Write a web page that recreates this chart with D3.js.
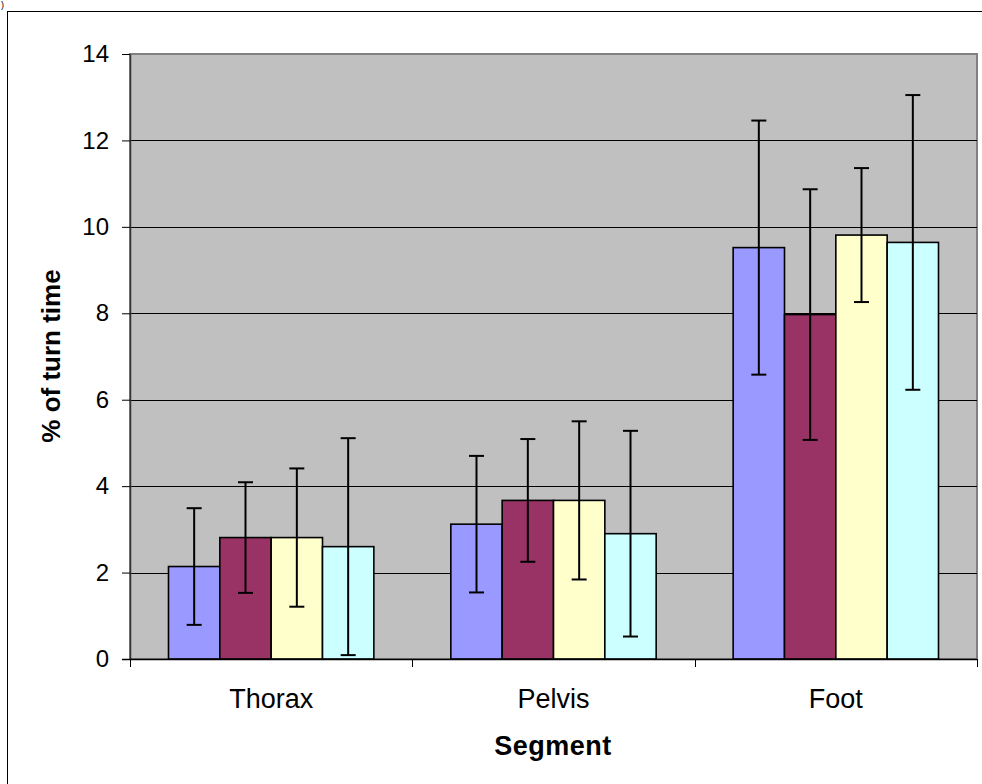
<!DOCTYPE html>
<html>
<head>
<meta charset="utf-8">
<script src="https://cdn.jsdelivr.net/npm/d3@7"></script>
<style>
  body { margin: 0; background: #fff; }
  text { font-family: "Liberation Sans", Arial, sans-serif; }
</style>
</head>
<body>
<div id="chart"></div>
<script>
// data
var segments = ["Thorax", "Pelvis", "Foot"];
var series = ["Series 1", "Series 2", "Series 3", "Series 4"];
var colors = ["#9999FF", "#993366", "#FFFFCC", "#CCFFFF"];
// mean % of turn time, one array per series (Thorax, Pelvis, Foot)
var series1 = [2.14, 3.12, 9.52];
var series2 = [2.81, 3.67, 7.97];
var series3 = [2.81, 3.67, 9.81];
var series4 = [2.60, 2.90, 9.64];
// error bar half-lengths
var err1 = [1.35, 1.58, 2.94];
var err2 = [1.28, 1.42, 2.90];
var err3 = [1.60, 1.83, 1.55];
var err4 = [2.51, 2.38, 3.41];
var yTicks = [0, 2, 4, 6, 8, 10, 12, 14];

var means = [series1, series2, series3, series4];
var errs = [err1, err2, err3, err4];

var W = 982, H = 784;
var margin = {top: 54, right: 5, bottom: 125, left: 130};
var width = W - margin.left - margin.right,
    height = H - margin.top - margin.bottom;

var svg = d3.select("#chart")
  .append("svg")
    .attr("width", W)
    .attr("height", H);

// outer frame (right and bottom edges run off the picture)
svg.append("rect")
  .attr("x", 7.5).attr("y", 11.5)
  .attr("width", 990).attr("height", 790)
  .attr("fill", "none")
  .attr("stroke", "#000")
  .attr("stroke-width", 1);

// small glyph in the corner
svg.append("text")
  .attr("x", 1).attr("y", 8)
  .style("font-size", "9px")
  .text(")");

var g = svg.append("g")
  .attr("transform", "translate(" + margin.left + "," + margin.top + ")");

var x0 = d3.scaleBand()
  .domain(segments)
  .range([0, width]);

var bw = x0.bandwidth();
var gap = bw * 1.5 / 5.5; // excel gap width 150%
var x1 = d3.scaleBand()
  .domain(series)
  .range([gap / 2, bw - gap / 2]);

var y = d3.scaleLinear()
  .domain([0, 14])
  .range([height, 0]);

// plot area
g.append("rect")
  .attr("x", 0).attr("y", 0)
  .attr("width", width).attr("height", height)
  .attr("fill", "#C0C0C0")
  .attr("stroke", "#808080")
  .attr("stroke-width", 2);

// gridlines
g.selectAll(".grid")
  .data(yTicks.filter(function(d) { return d > 0 && d < 14; }))
  .enter()
  .append("line")
    .attr("x1", 0).attr("x2", width)
    .attr("y1", function(d) { return Math.round(y(d)) + 0.5; })
    .attr("y2", function(d) { return Math.round(y(d)) + 0.5; })
    .attr("stroke", "#000")
    .attr("stroke-width", 1);

// Y axis
var yAxis = g.append("g")
  .call(d3.axisLeft(y).tickValues(yTicks).tickSize(8).tickPadding(13).tickSizeOuter(0));
yAxis.select(".domain").attr("stroke", "#333").attr("stroke-width", 1.5);
yAxis.selectAll(".tick line").attr("stroke", "#000");
yAxis.selectAll(".tick text")
  .style("font-size", "24px")
  .attr("fill", "#000");

// bars
var rows = [];
segments.forEach(function(s, i) {
  series.forEach(function(k, j) {
    rows.push({seg: s, ser: k, v: means[j][i], e: errs[j][i], c: colors[j]});
  });
});

g.selectAll(".bar")
  .data(rows)
  .enter()
  .append("rect")
    .attr("x", function(d) { return x0(d.seg) + x1(d.ser); })
    .attr("y", function(d) { return y(d.v); })
    .attr("width", x1.bandwidth())
    .attr("height", function(d) { return height - y(d.v); })
    .attr("fill", function(d) { return d.c; })
    .attr("stroke", "#000")
    .attr("stroke-width", 1.6);

// error bars
var cap = 7.5;
var eb = g.selectAll(".err")
  .data(rows)
  .enter()
  .append("g")
    .attr("stroke", "#000")
    .attr("stroke-width", 2);
eb.append("line")
  .attr("x1", function(d) { return x0(d.seg) + x1(d.ser) + x1.bandwidth() / 2; })
  .attr("x2", function(d) { return x0(d.seg) + x1(d.ser) + x1.bandwidth() / 2; })
  .attr("y1", function(d) { return y(d.v + d.e); })
  .attr("y2", function(d) { return y(d.v - d.e); });
eb.append("line")
  .attr("x1", function(d) { return x0(d.seg) + x1(d.ser) + x1.bandwidth() / 2 - cap; })
  .attr("x2", function(d) { return x0(d.seg) + x1(d.ser) + x1.bandwidth() / 2 + cap; })
  .attr("y1", function(d) { return y(d.v + d.e); })
  .attr("y2", function(d) { return y(d.v + d.e); });
eb.append("line")
  .attr("x1", function(d) { return x0(d.seg) + x1(d.ser) + x1.bandwidth() / 2 - cap; })
  .attr("x2", function(d) { return x0(d.seg) + x1(d.ser) + x1.bandwidth() / 2 + cap; })
  .attr("y1", function(d) { return y(d.v - d.e); })
  .attr("y2", function(d) { return y(d.v - d.e); });

// X axis line and ticks at category boundaries
g.append("line")
  .attr("x1", -8).attr("x2", width)
  .attr("y1", height + 0.5).attr("y2", height + 0.5)
  .attr("stroke", "#000")
  .attr("stroke-width", 1.5);

var bounds = segments.map(function(d) { return x0(d); }).concat([width]);
g.selectAll(".xtick")
  .data(bounds)
  .enter()
  .append("line")
    .attr("x1", function(d) { return Math.round(d) + 0.5; })
    .attr("x2", function(d) { return Math.round(d) + 0.5; })
    .attr("y1", height)
    .attr("y2", height + 8)
    .attr("stroke", "#000");

g.selectAll(".xlabel")
  .data(segments)
  .enter()
  .append("text")
    .attr("x", function(d) { return x0(d) + bw / 2; })
    .attr("y", height + 49)
    .attr("text-anchor", "middle")
    .style("font-size", "27px")
    .text(function(d) { return d; });

// axis titles
svg.append("text")
  .attr("x", 553)
  .attr("y", 755)
  .attr("text-anchor", "middle")
  .style("font-size", "27px")
  .style("font-weight", "bold")
  .style("letter-spacing", "0.5px")
  .text("Segment");

svg.append("text")
  .attr("transform", "translate(60,356) rotate(-90)")
  .attr("text-anchor", "middle")
  .style("font-size", "26px")
  .style("font-weight", "bold")
  .text("% of turn time");
</script>
</body>
</html>
